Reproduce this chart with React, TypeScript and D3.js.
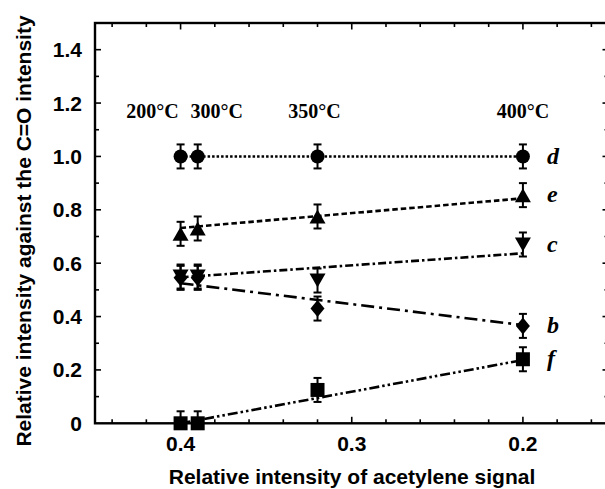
import React from 'react'
import * as d3 from 'd3'

// acetylene signal at each anneal temperature
const temps = ['200°C', '300°C', '350°C', '400°C']
const acetylene = [0.4, 0.39, 0.32, 0.2]

// series values (relative intensity against C=O)
const seriesNames = ['d', 'e', 'c', 'b', 'f']
const seriesD = [1.0, 1.0, 1.0, 1.0]
const seriesE = [0.71, 0.73, 0.775, 0.855]
const seriesC = [0.55, 0.55, 0.535, 0.67]
const seriesB = [0.545, 0.545, 0.43, 0.365]
const seriesF = [0.0, 0.0, 0.125, 0.24]
const errorBar = 0.045

// fitted lines, value at x = 0.40 and x = 0.20
const fitX = [0.4, 0.2]
const fitD = [1.0, 1.0]
const fitE = [0.732, 0.843]
const fitC = [0.547, 0.637]
const fitB = [0.525, 0.368]
const fitF = [0.0, 0.237]

const yTicks = [0, 0.2, 0.4, 0.6, 0.8, 1.0, 1.2, 1.4]
const xTicks = [0.4, 0.3, 0.2]

const W = 605
const H = 489

const sans = '"Liberation Sans", Arial, sans-serif'
const serif = '"Liberation Serif", "Times New Roman", serif'

type Shape = 'circle' | 'up' | 'down' | 'diamond' | 'square'

function marker(shape: Shape): string {
  const p = d3.path()
  if (shape === 'circle') {
    p.arc(0, 0, 7, 0, Math.PI * 2)
  } else if (shape === 'up') {
    p.moveTo(0, -7); p.lineTo(8, 7); p.lineTo(-8, 7); p.closePath()
  } else if (shape === 'down') {
    p.moveTo(0, 7); p.lineTo(8, -7); p.lineTo(-8, -7); p.closePath()
  } else if (shape === 'diamond') {
    p.moveTo(0, -8.5); p.lineTo(7, 0); p.lineTo(0, 8.5); p.lineTo(-7, 0); p.closePath()
  } else {
    p.rect(-7, -7, 14, 14)
  }
  return p.toString()
}

export default function App() {
  const x = d3.scaleLinear().domain([0.45, 0.15]).range([95, 608.5])
  const y = d3.scaleLinear().domain([0, 1.5]).range([423.3, 23])

  const series = [
    { name: seriesNames[0], values: seriesD, fit: fitD, shape: 'circle' as Shape, dash: '2.5,2' },
    { name: seriesNames[1], values: seriesE, fit: fitE, shape: 'up' as Shape, dash: '5.5,3' },
    { name: seriesNames[2], values: seriesC, fit: fitC, shape: 'down' as Shape, dash: '8,3,2.5,3' },
    { name: seriesNames[3], values: seriesB, fit: fitB, shape: 'diamond' as Shape, dash: '13,5,3,5' },
    { name: seriesNames[4], values: seriesF, fit: fitF, shape: 'square' as Shape, dash: '10,3,2.5,3,2.5,3' },
  ]

  const line = d3.line<[number, number]>().x(d => x(d[0])).y(d => y(d[1]))

  const xMinor = d3.range(0.16, 0.45, 0.02)
  const yMinor = d3.range(0.1, 1.5, 0.1)
  const tempShift = [-28, 19, -3, 0]
  const [x0, x1] = x.range()
  const [yb, yt] = y.range()

  return (
    <svg width={W} height={H} style={{ position: 'absolute', left: 0, top: 0, background: '#fff' }}>
      <rect x={0} y={0} width={W} height={H} fill="#fff" />

      {/* frame */}
      <rect x={x0} y={yt} width={x1 - x0} height={yb - yt} fill="none" stroke="#000" strokeWidth={2.4} />

      {/* x ticks bottom + top */}
      {xMinor.map((v, i) => {
        const major = xTicks.some(t => Math.abs(t - v) < 1e-6)
        const len = major ? 6.5 : 4
        return (
          <g key={'xt' + i}>
            <line x1={x(v)} x2={x(v)} y1={yb} y2={yb - len} stroke="#000" strokeWidth={1.6} />
            <line x1={x(v)} x2={x(v)} y1={yt} y2={yt + len} stroke="#000" strokeWidth={1.6} />
          </g>
        )
      })}
      {/* y ticks left + right */}
      {yMinor.map((v, i) => {
        const major = yTicks.some(t => Math.abs(t - v) < 1e-6)
        const len = major ? 6 : 4
        return (
          <g key={'yt' + i}>
            <line x1={x0} x2={x0 + len} y1={y(v)} y2={y(v)} stroke="#000" strokeWidth={1.6} />
            <line x1={x1} x2={x1 - len} y1={y(v)} y2={y(v)} stroke="#000" strokeWidth={1.6} />
          </g>
        )
      })}

      {/* tick labels */}
      {yTicks.map(t => (
        <text key={'yl' + t} x={82} y={y(t)} dy="0.36em" textAnchor="end"
          fontFamily={sans} fontWeight="bold" fontSize={21}>
          {t === 0 ? '0' : d3.format('.1f')(t)}
        </text>
      ))}
      {xTicks.map(t => (
        <text key={'xl' + t} x={x(t)} y={451} textAnchor="middle"
          fontFamily={sans} fontWeight="bold" fontSize={21}>
          {d3.format('.1f')(t)}
        </text>
      ))}

      {/* axis titles */}
      <text x={352} y={484} textAnchor="middle" fontFamily={sans} fontWeight="bold" fontSize={21}>
        Relative intensity of acetylene signal
      </text>
      <text transform="translate(31,231) rotate(-90)" textAnchor="middle"
        fontFamily={sans} fontWeight="bold" fontSize={21}>
        Relative intensity against the C=O intensity
      </text>

      {/* temperature labels */}
      {temps.map((t, i) => (
        <text key={t} x={x(acetylene[i]) + tempShift[i]} y={118} textAnchor="middle"
          fontFamily={serif} fontWeight="bold" fontSize={20}>
          {t}
        </text>
      ))}

      {/* fit lines */}
      {series.map(s => (
        <path key={'f' + s.name}
          d={line(fitX.map((fx, i) => [fx, s.fit[i]] as [number, number])) || ''}
          fill="none" stroke="#000" strokeWidth={2.6} strokeDasharray={s.dash} />
      ))}

      {/* error bars and markers */}
      {series.map(s => (
        <g key={'m' + s.name}>
          {s.values.map((v, i) => {
            const cx = x(acetylene[i])
            const lo = y(Math.max(0, v - errorBar))
            const hi = y(v + errorBar)
            return (
              <g key={i}>
                <line x1={cx} x2={cx} y1={lo} y2={hi} stroke="#000" strokeWidth={2} />
                <line x1={cx - 4} x2={cx + 4} y1={hi} y2={hi} stroke="#000" strokeWidth={2} />
                {v - errorBar > 0 && (
                  <line x1={cx - 4} x2={cx + 4} y1={lo} y2={lo} stroke="#000" strokeWidth={2} />
                )}
                <path d={marker(s.shape)} transform={`translate(${cx},${y(v)})`} fill="#000" />
              </g>
            )
          })}
          <text x={x(acetylene[3]) + 24} y={y(s.values[3])} dy="0.3em"
            fontFamily={serif} fontWeight="bold" fontStyle="italic" fontSize={24}>
            {s.name}
          </text>
        </g>
      ))}
    </svg>
  )
}
